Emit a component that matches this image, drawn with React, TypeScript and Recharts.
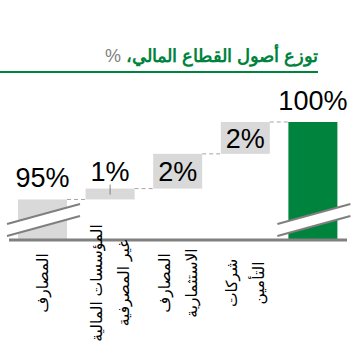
import React from 'react';
import { BarChart, Bar, XAxis, YAxis } from 'recharts';

// توزع أصول القطاع المالي - waterfall with a broken value axis
const categories = [
  'المصارف',
  'المؤسسات المالية\nغير المصرفية',
  'المصارف\nالاستثمارية',
  'شركات\nالتأمين',
  '',
];
const stepValues = [94.65, 0.75, 2.4, 2.2];
const totalValue = 100;
const barColors = ['#D9D9D9', '#D9D9D9', '#D9D9D9', '#D9D9D9', '#00843D'];

const W = 357;
const H = 346;
const MARGIN = { top: 80, right: 10, bottom: 0, left: 9 };
const AXIS_HEIGHT = 106;
const PLOT_BOTTOM = H - MARGIN.bottom - AXIS_HEIGHT;
const Y_DOMAIN: [number, number] = [91.85, 102.9];
const BAND = (W - MARGIN.left - MARGIN.right) / categories.length;

const GREEN = '#00843D';
const LABEL_FONT = "'Liberation Sans', Arial, sans-serif";

// build floating ranges for the waterfall
const chartData = categories.map((name, i) => {
  if (i < stepValues.length) {
    const lo = stepValues.slice(0, i).reduce((s, v) => s + v, 0);
    return {
      name,
      range: [lo, lo + stepValues[i]],
      label: `${Math.round(stepValues[i])}%`,
      color: barColors[i],
      isLast: false,
    };
  }
  return { name, range: [0, totalValue], label: `${totalValue}%`, color: barColors[i], isLast: true };
});

const WaterfallShape = (props: any) => {
  const { x, y, width, height, payload } = props;
  const bottom = y + height;
  const broken = bottom > PLOT_BOTTOM + 1;
  const b = Math.min(bottom, PLOT_BOTTOM);
  const h = b - y;
  const inside = !broken && h >= 30;
  const gap = BAND - width;

  // axis break geometry, relative to the bar
  const bx1 = x - 11;
  const bx2 = x + width + 13;

  return (
    <g>
      <rect x={x} y={y} width={width} height={h} fill={payload.color} />
      {broken && (
        <g>
          <polygon
            points={`${bx1},${b - 16} ${bx2},${b - 36} ${bx2},${b - 24} ${bx1},${b - 4}`}
            fill="#fff"
          />
          <line x1={bx1} y1={b - 16} x2={bx2} y2={b - 36} stroke="#7F7F7F" strokeWidth={2} />
          <line x1={bx1} y1={b - 4} x2={bx2} y2={b - 24} stroke="#7F7F7F" strokeWidth={2} />
        </g>
      )}
      {!payload.isLast && (
        <line
          x1={x + width}
          y1={y}
          x2={x + width + gap}
          y2={y}
          stroke="#A6A6A6"
          strokeDasharray="4 3"
          strokeWidth={1}
        />
      )}
      {!inside && !broken && (
        <line x1={x + width / 2} y1={y - 4} x2={x + width / 2} y2={y + 6} stroke="#808080" strokeWidth={1} />
      )}
      <text
        x={x + width / 2}
        y={inside ? y + h / 2 + 10 : broken ? y - 12 : y - 8}
        textAnchor="middle"
        fontSize={27}
        fontFamily={LABEL_FONT}
        fill="#000"
      >
        {payload.label}
      </text>
    </g>
  );
};

const CategoryTick = ({ x, y, payload }: any) => {
  const lines = String(payload.value).split('\n').filter(Boolean);
  if (!lines.length) return null;
  return (
    <g transform={`translate(${x},${y + 43}) rotate(-90)`}>
      {lines.map((line, i) => (
        <text
          key={i}
          x={0}
          y={(i - (lines.length - 1) / 2) * 27}
          textAnchor="middle"
          dominantBaseline="central"
          fontSize={15.5}
          fontFamily="'DejaVu Sans', sans-serif"
          fill="#000"
        >
          {line}
        </text>
      ))}
    </g>
  );
};

export default function App() {
  return (
    <div style={{ position: 'absolute', left: 0, top: 0, width: W, height: H, background: '#fff' }}>
      <div
        style={{
          position: 'absolute',
          right: W - 318,
          top: 45,
          direction: 'rtl',
          fontFamily: LABEL_FONT,
          fontSize: 18,
          fontWeight: 'bold',
          color: GREEN,
          lineHeight: '22px',
          whiteSpace: 'nowrap',
        }}
      >
        توزع أصول القطاع المالي، <span style={{ color: '#7F7F7F', fontWeight: 'normal' }}>%</span>
      </div>
      <div style={{ position: 'absolute', left: 0, top: 71, width: 318, height: 2, background: GREEN }} />
      <BarChart width={W} height={H} data={chartData} margin={MARGIN} barSize={49}>
        <XAxis
          dataKey="name"
          height={AXIS_HEIGHT}
          interval={0}
          tickLine={false}
          tickSize={0}
          tickMargin={0}
          axisLine={{ stroke: '#808080', strokeWidth: 3 }}
          tick={<CategoryTick />}
        />
        <YAxis hide type="number" domain={Y_DOMAIN} allowDataOverflow />
        <Bar dataKey="range" shape={WaterfallShape} isAnimationActive={false} />
      </BarChart>
    </div>
  );
}
